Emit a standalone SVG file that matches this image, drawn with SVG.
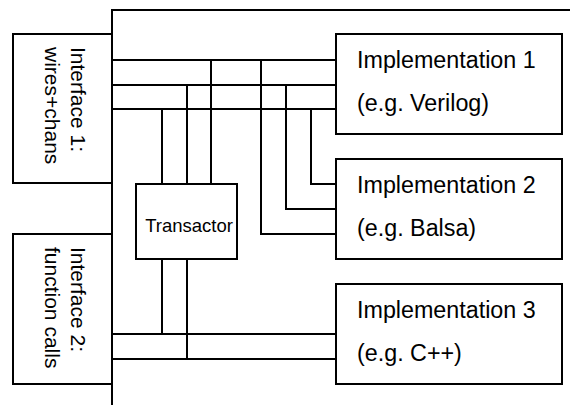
<svg xmlns="http://www.w3.org/2000/svg" width="570" height="405" viewBox="0 0 570 405">
<style>
.box{fill:#fff;stroke:#000;stroke-width:2}
.w{fill:none;stroke:#000;stroke-width:2}
.t{font-family:"Liberation Sans",Arial,sans-serif;fill:#000}
.big{font-size:23.3px}
.mid{font-size:21px}
.sm{font-size:18.5px}
</style>
<rect width="570" height="405" fill="#fff"/>
<g id="connectors">
<path class="w" d="M112,405 V10 H570"/>
<path class="w" d="M112,60 H336 M112,85 H336 M112,109 H336"/>
<path class="w" d="M211,60 V184 M187,85 V184 M162,109 V184"/>
<path class="w" d="M261,60 V234 H336 M286,85 V209 H336 M311,109 V184 H336"/>
<path class="w" d="M162,259 V334 M187,259 V359"/>
<path class="w" d="M112,334 H336 M112,359 H336"/>
</g>
<g id="interface1">
<rect class="box" x="13" y="34" width="99" height="149"/>
<text class="t mid" transform="translate(71,47) rotate(90)">Interface 1:</text>
<text class="t mid" transform="translate(45,47) rotate(90)">wires+chans</text>
</g>
<g id="interface2">
<rect class="box" x="13" y="234" width="99" height="150"/>
<text class="t mid" transform="translate(71,247) rotate(90)">Interface 2:</text>
<text class="t mid" transform="translate(45,247) rotate(90)">function calls</text>
</g>
<g id="transactor">
<rect class="box" x="136" y="184" width="101" height="75"/>
<text class="t sm" x="189" y="231.5" text-anchor="middle">Transactor</text>
</g>
<g id="impl1">
<rect class="box" x="336" y="34" width="226" height="100"/>
<text class="t big" x="357" y="68">Implementation 1</text>
<text class="t big" x="357" y="111">(e.g. Verilog)</text>
</g>
<g id="impl2">
<rect class="box" x="336" y="159" width="226" height="100"/>
<text class="t big" x="357" y="193">Implementation 2</text>
<text class="t big" x="357" y="236">(e.g. Balsa)</text>
</g>
<g id="impl3">
<rect class="box" x="336" y="284" width="226" height="100"/>
<text class="t big" x="357" y="318">Implementation 3</text>
<text class="t big" x="357" y="361">(e.g. C++)</text>
</g>
</svg>
